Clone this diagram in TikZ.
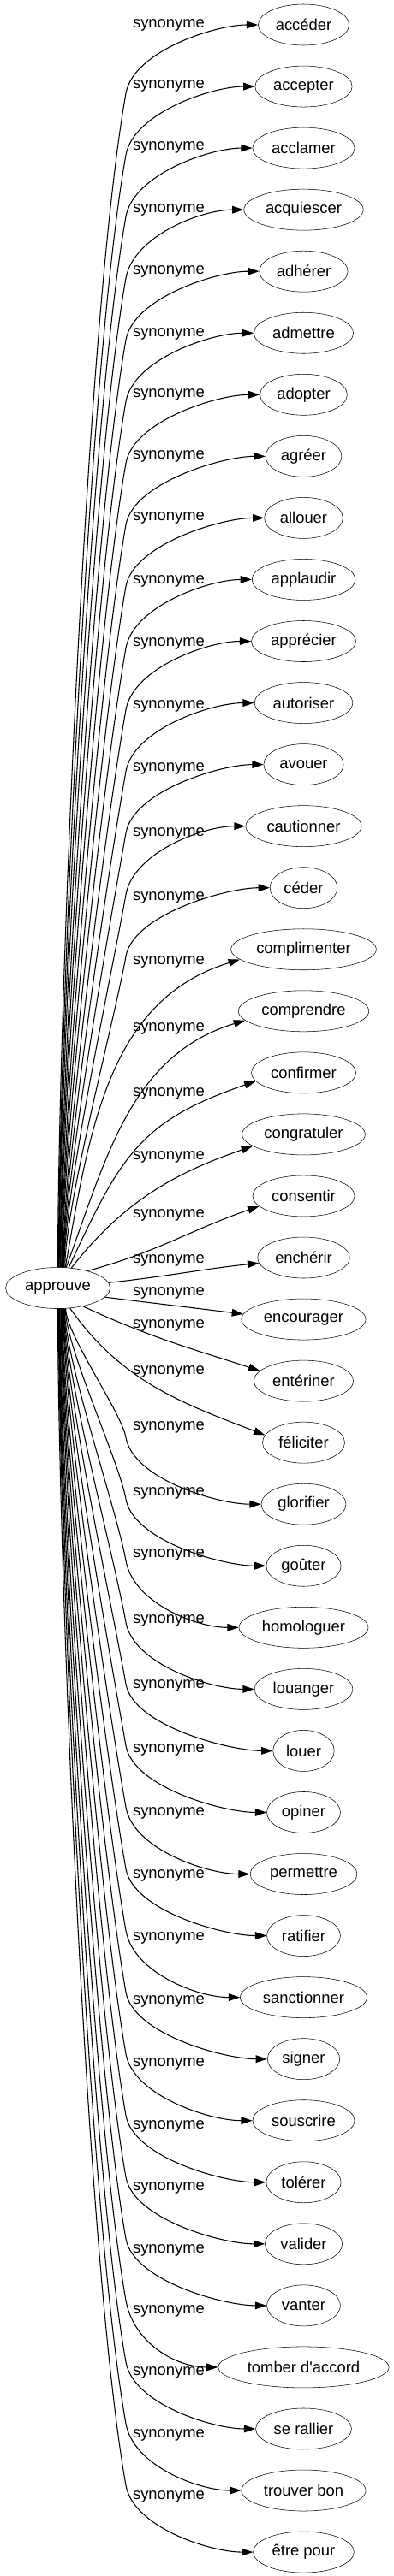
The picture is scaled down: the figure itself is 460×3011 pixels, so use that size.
\documentclass[tikz,border=0pt]{standalone}
\usepackage{fontspec}
\setmainfont{Liberation Sans}
\usetikzlibrary{arrows.meta,
  shapes.geometric,
  calc
}
\tikzset{>={Triangle[length=10pt,width=6.5pt]}}

\begin{document}
\begin{tikzpicture}[x=0.75pt,y=-0.75pt,font=\fontsize{13.8}{16}\selectfont,
  word/.style={draw,ellipse,inner xsep=3.6pt,minimum height=36pt},
  edge/.style={->,line width=0.8pt}]
  \useasboundingbox (0,0) rectangle (460,3011);

  % Root word
  \node[word] (approuve) at (67.5,1505.5) {approuve};
  \coordinate (rail) at (147,0);

  % Synonyms and their labels
  \foreach \i/\w/\ly in {
    1/accéder/29.3, 2/accepter/100, 3/acclamer/172.7, 4/acquiescer/245.7,
    5/adhérer/317.3, 6/admettre/390, 7/adopter/461.7, 8/agréer/533.3,
    9/allouer/605, 10/applaudir/679.3, 11/apprécier/752.3, 12/autoriser/825.7,
    13/avouer/898, 14/cautionner/974, 15/céder/1049, 16/complimenter/1124.3,
    17/comprendre/1202.3, 18/confirmer/1278.3, 19/congratuler/1352.7, 20/consentir/1420,
    21/enchérir/1473.3, 22/encourager/1511, 23/entériner/1549, 24/féliciter/1603.3,
    25/glorifier/1668.3, 26/goûter/1745, 27/homologuer/1817.3, 28/louanger/1894,
    29/louer/1970, 30/opiner/2045, 31/permettre/2119.3, 32/ratifier/2192.3,
    33/sanctionner/2265.7, 34/signer/2339, 35/souscrire/2412.3, 36/tolérer/2485,
    37/valider/2557.7, 38/vanter/2630, 39/tomber d\textquotesingle{}accord/2701.7,
    40/se rallier/2773.3, 41/trouver bon/2846, 42/être pour/2918} {
    \node[word] (syn\i) at (354.5,{29+72.05*(\i-1)}) {\w};
    \node (lab\i) at (197,\ly) {synonyme};
  }

  % Upper fan
  \foreach \i in {1,...,15} {
    \pgfmathtruncatemacro\a{90-(\i-1)*1.3}
    \pgfmathsetmacro\d{0.2*(1482-(29+72.05*(\i-1)+80))}
    \draw[edge] (approuve.\a) .. controls +(0,-\d) and +({-0.174*\d},{0.985*\d})
      .. ($(syn\i.west -| rail)+(0,80)$) .. controls +(8.7,-49) and +(-50,0) .. (syn\i.west);
  }

  % Middle edges
  \foreach \i/\a/\o/\t/\n/\d in {16/70/80/189/197/121, 17/68/70/189/197/104,
    18/62/65/190/199/108, 19/56/52/193/199/73, 20/30/15/193/199/63,
    21/6/6/187/186/50, 22/-11/-7/175/173/47, 23/-36/-25/167/162/64, 24/-59/-55/169/159/78}
    \draw[edge] (approuve.\a) .. controls +(\o:\d pt) and +(\n:\d pt) .. (syn\i.\t);

  % Lower fan
  \foreach \i in {25,...,42} {
    \pgfmathtruncatemacro\a{-90+(42-\i)*1.2}
    \pgfmathsetmacro\d{0.2*((29+72.05*(\i-1)-78)-1529)}
    \draw[edge] (approuve.\a) .. controls +(0,\d) and +({-0.174*\d},{-0.985*\d})
      .. ($(syn\i.west -| rail)+(0,-78)$) .. controls +(8.7,49) and +(-50,0) .. (syn\i.west);
  }
\end{tikzpicture}
\end{document}
